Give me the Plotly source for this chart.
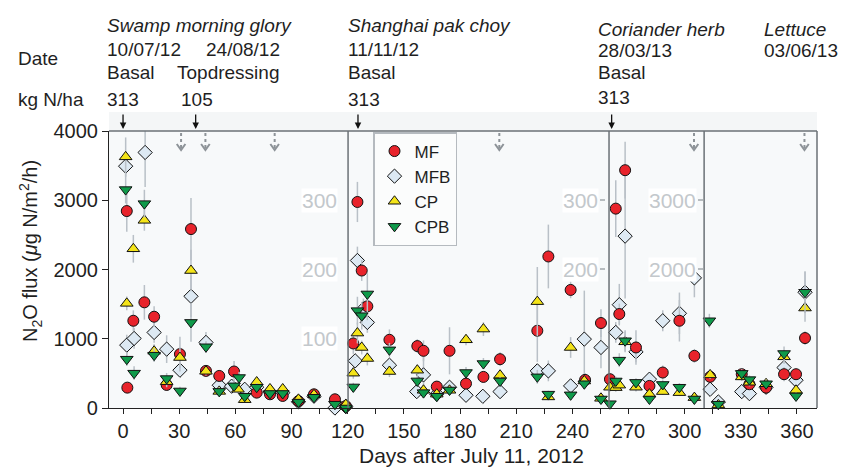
import plotly.graph_objects as go

# ---------------- data ----------------
mf_days = [2.0, 2.3, 5.5, 11.4, 16.6, 23.3, 30.4, 36.3, 44.3, 51.4, 59.3, 71.4, 78.5, 85.3, 93.7, 102, 113.2, 119,
           123, 125.2, 127.5, 130.5, 142.3, 157.2, 160.5, 167.6, 174.4, 183.2, 192.5, 201.4, 221.3, 227.2, 239.1, 246.8, 255.3, 260.1,
           263.2, 265.1, 268.2, 274, 281.2, 288.3, 297.2, 305.2,
           313.6, 330.5, 334.6, 343.5, 353.1, 359.5, 364.3]
mf_vals = [2844, 294, 1260, 1526, 1318, 333, 778, 2584, 536, 463, 527, 222, 198, 174, 100, 198, 126, 29,
           932, 2975, 1985, 1468, 985, 894, 826, 309, 826, 352, 449, 705, 1116, 2188, 1705, 406, 1227, 416,
           2879, 1357, 3434, 874, 319, 512, 1260, 753,
           450, 488, 343, 294, 488, 488, 1010]
mf_err = [300, 60, 150, 250, 150, 80, 250, 450, 60, 80, 150, 60, 50, 50, 40, 60, 40, 20,
          150, 290, 150, 200, 150, 100, 150, 60, 340, 80, 80, 100, 450, 460, 120, 100, 200, 80,
          410, 150, 410, 250, 80, 100, 300, 100,
          60, 80, 60, 50, 100, 80, 100]

mfb_days = [1.4, 2.0, 5.9, 11.8, 16.6, 23.3, 30.4, 36.3, 44.3, 51.4, 58, 65, 71.4, 78.5, 85.3, 93.7, 102, 113.2, 119,
            124, 125.2, 128.4, 130.5, 142.3, 156.9, 160.5, 167.6, 174.4, 183.2, 192.2, 201.4, 221.3, 227.2, 239.1, 246.4, 255.3,
            263.2, 265.1, 268.2, 274, 281.2, 288.3, 297.2, 305.2,
            313.6, 318, 330.5, 334.6, 343.5, 353.1, 359.5, 364.3]
mfb_vals = [3492, 908, 1004, 3690, 1091, 850, 546, 1613, 947, 329, 315, 270, 300, 230, 220, 90, 170, 0, 20,
            681, 2130, 1430, 1236, 618, 237, 478, 200, 300, 184, 169, 237, 536, 536, 319, 995, 874,
            1091, 1492, 2482, 811, 416, 1260, 1367, 1879,
            270, 87, 237, 208, 300, 584, 401, 1671]
mfb_err = [150, 150, 150, 500, 150, 200, 100, 300, 150, 80, 80, 60, 60, 50, 50, 30, 50, 20, 20,
           100, 200, 150, 150, 100, 60, 300, 40, 60, 40, 40, 50, 100, 150, 60, 700, 300,
           150, 300, 900, 150, 80, 150, 300, 280,
           40, 30, 50, 50, 50, 100, 60, 300]

cp_days = [1.4, 2.0, 5.5, 11.4, 16.6, 23.3, 30.4, 36.3, 44.3, 51.4, 61.4, 65, 71.4, 78.5, 85.3, 93.7, 102, 119,
           123, 125.2, 127.5, 130.5, 142.3, 157.2, 160.5, 167.6, 174.4, 183.2, 192.5, 201.4, 221.3, 227.2, 239.1, 246.4, 255.3,
           260.1, 263.2, 265.1, 268.2, 274, 281.2, 288.3, 297.2, 305.2,
           313.6, 318, 330.5, 334.6, 343.5, 353.1, 359.5, 364.3]
cp_vals = [3627, 1511, 2299, 2710, 820, 380, 729, 1985, 530, 240, 270, 120, 375, 275, 275, 125, 190, 50,
           503, 1082, 874, 715, 527, 546, 256, 200, 256, 985, 1140, 473, 1536, 160, 874, 390, 140,
           300, 294, 330, 956, 300, 200, 237, 222, 150,
           478, 45, 449, 372, 350, 739, 256, 1444]
cp_err = [280, 100, 200, 150, 100, 80, 150, 300, 60, 60, 60, 40, 60, 50, 50, 40, 50, 20,
          80, 150, 100, 100, 80, 80, 50, 40, 50, 80, 100, 80, 500, 50, 150, 60, 40,
          60, 60, 60, 150, 60, 50, 50, 50, 40,
          60, 20, 60, 60, 60, 100, 50, 200]

cpb_days = [1.4, 2.0, 5.9, 11.4, 16.6, 23.3, 30.4, 36.3, 44.3, 51.4, 59.3, 62, 65, 71.4, 78.5, 85.3, 93.7, 102, 113.2, 119,
            123, 125.2, 127.5, 130.5, 142.3, 157.2, 160.5, 167.6, 174.4, 183.2, 192.5, 201.4, 221.3, 227.2, 239.1, 246.4, 255.3, 260.1,
            263.2, 265.1, 268.2, 274, 281.2, 288.3, 297.2, 305.2,
            313.2, 318, 330.5, 334.6, 343.5, 353.1, 359.5, 364.3]
cpb_vals = [3154, 705, 503, 2951, 763, 425, 246, 1236, 884, 240, 320, 440, 170, 300, 210, 210, 85, 155, 55, 0,
            304, 1406, 1333, 1647, 840, 391, 222, 170, 260, 512, 642, 390, 450, 200, 190, 350, 130, 62,
            390, 691, 971, 370, 130, 340, 300, 130,
            1260, 55, 500, 410, 350, 787, 174, 1671]
cpb_err = [200, 100, 100, 200, 100, 80, 60, 280, 80, 60, 60, 80, 50, 60, 50, 50, 30, 40, 20, 20,
           60, 200, 200, 300, 100, 80, 50, 40, 50, 80, 80, 60, 100, 50, 50, 60, 40, 20,
           60, 100, 150, 60, 40, 60, 60, 40,
           100, 20, 60, 60, 60, 100, 50, 300]

x_ticks = list(range(0, 361, 15))
y_ticks = [0, 1000, 2000, 3000, 4000]
divider_days = [120.2, 259.6, 310.4]
fert_days = [0, 38.8, 125.5, 261]
gray_arrow_days = [31, 44, 81, 201, 305, 364]

# ---------------- geometry helpers ----------------
W, H = 848, 473
L, R, T, B = 109, 31, 131, 65
PW, PH = W - L - R, H - T - B
def px(x):
    return (x - L) / PW
def py(y):
    return (H - B - y) / PH

FONT = "Liberation Sans, Arial, sans-serif"
TXT = "#1f1f1f"

fig = go.Figure()

ebar = dict(type="data", visible=True, color="#b9c0c7", thickness=1.5, width=0)

series = [
    ("MFB", mfb_days, mfb_vals, mfb_err, "diamond", "#dde9f3", 11, 2),
    ("MF", mf_days, mf_vals, mf_err, "circle", "#e8232b", 11, 1),
    ("CP", cp_days, cp_vals, cp_err, "triangle-up", "#f4e419", 11, 3),
    ("CPB", cpb_days, cpb_vals, cpb_err, "triangle-down", "#0f9a4a", 11, 4),
]
for name, xs, ys, es, sym, col, sz, rank in series:
    fig.add_trace(go.Scatter(
        x=xs, y=ys, mode="markers", name=name, legendrank=rank,
        error_y=dict(array=es, **ebar),
        marker=dict(symbol=sym, color=col, size=sz, line=dict(color="#111", width=1)),
        cliponaxis=False,
    ))

shapes = []
# light band above plot
shapes.append(dict(type="rect", xref="paper", yref="paper", x0=0, x1=1, y0=1, y1=py(112),
                   fillcolor="#f4f6f7", line=dict(width=0), layer="below"))
# dividers
for d in divider_days:
    shapes.append(dict(type="line", xref="x", yref="paper", x0=d, x1=d, y0=0, y1=1,
                       line=dict(color="#6b7176", width=1.5)))
# top & right border
shapes.append(dict(type="line", xref="paper", yref="paper", x0=0, x1=1, y0=1, y1=1,
                   line=dict(color="#6b7176", width=1.5)))
shapes.append(dict(type="line", xref="paper", yref="paper", x0=1, x1=1, y0=0, y1=1,
                   line=dict(color="#6b7176", width=1.5)))
# gray dotted arrows
for d in gray_arrow_days:
    shapes.append(dict(type="line", xref="x", yref="paper", x0=d, x1=d, y0=py(133), y1=py(148),
                       line=dict(color="#8d9398", width=2, dash="dot")))
    dx = 2.3
    shapes.append(dict(type="path", xref="x", yref="paper",
                       path=f"M {d-dx},{py(144)} L {d},{py(150)} L {d+dx},{py(144)}",
                       line=dict(color="#8d9398", width=2)))

annotations = []
# black fertiliser arrows
for d in fert_days:
    annotations.append(dict(x=d, y=py(129), xref="x", yref="paper", text="", showarrow=True,
                            ax=0, ay=-16, arrowhead=2, arrowsize=1, arrowwidth=1.3, arrowcolor="#111"))

def txt(s, x, y, italic=False, size=19, color=TXT, xanchor="left", angle=0):
    if italic:
        s = "<i>" + s + "</i>"
    annotations.append(dict(text=s, x=px(x), y=py(y), xref="paper", yref="paper",
                            xanchor=xanchor, yanchor="middle", showarrow=False, borderpad=0,
                            textangle=angle,
                            font=dict(family=FONT, size=size, color=color)))

txt("Swamp morning glory", 106, 26, True)
txt("10/07/12", 106, 49)
txt("24/08/12", 205, 49)
txt("Date", 17, 58)
txt("Basal", 106, 73)
txt("Topdressing", 176, 73)
txt("kg N/ha", 17, 100)
txt("313", 106, 100)
txt("105", 180, 100)
txt("Shanghai pak choy", 347, 26, True)
txt("11/11/12", 347, 49)
txt("Basal", 347, 73)
txt("313", 347, 100)
txt("Coriander herb", 597, 30, True)
txt("28/03/13", 597, 51)
txt("Basal", 597, 72)
txt("313", 597, 97)
txt("Lettuce", 763, 30, True)
txt("03/06/13", 763, 51)

# axis titles
txt("Days after July 11, 2012", 471, 455, size=21, xanchor="center")
txt("N<sub>2</sub>O flux (<i>μ</i>g N/m<sup>2</sup>/h)", 30, 251, size=20, xanchor="center", angle=-90)

# gray secondary-scale labels
GRAY = "#c3c8cc"
def glabel(s, xr, y, tick=False):
    annotations.append(dict(text=s, x=px(xr), y=py(y), xref="paper", yref="paper",
                            xanchor="right", yanchor="middle", showarrow=False,
                            bgcolor="white", borderpad=0,
                            font=dict(family=FONT, size=21, color=GRAY)))
    if tick:
        shapes.append(dict(type="line", xref="paper", yref="paper", x0=px(xr + 1), x1=px(xr + 6),
                           y0=py(y), y1=py(y), line=dict(color="#8d9398", width=1.2)))

glabel("300", 338, 200)
glabel("200", 338, 269)
glabel("100", 338, 338)
glabel("300", 599, 200, True)
glabel("200", 599, 269, True)
glabel("3000", 697, 200, True)
glabel("2000", 697, 269, True)

fig.update_layout(
    width=W, height=H,
    margin=dict(l=L, r=R, t=T, b=B, autoexpand=False),
    paper_bgcolor="white",
    plot_bgcolor="#f7f9fa",
    font=dict(family=FONT, size=20, color=TXT),
    showlegend=True,
    legend=dict(x=px(373), y=py(132), xanchor="left", yanchor="top",
                bgcolor="#fbfcfc", bordercolor="#b5babf", borderwidth=1.5,
                font=dict(family=FONT, size=17, color=TXT),
                itemwidth=30, tracegroupgap=0),
    shapes=shapes,
    annotations=annotations,
)
fig.update_xaxes(
    range=[-7.5, 370.7], tickmode="array", tickvals=x_ticks,
    ticktext=[str(v) if v % 30 == 0 else "" for v in x_ticks],
    ticks="outside", ticklen=5, tickwidth=1, tickcolor="#222",
    showline=True, linecolor="#222", linewidth=1.2, showgrid=False, zeroline=False,
    automargin=False,
    tickfont=dict(family=FONT, size=20, color=TXT),
)
fig.update_yaxes(
    range=[0, 4000], tickmode="array", tickvals=y_ticks,
    ticks="outside", ticklen=6, tickwidth=1, tickcolor="#222",
    showline=True, linecolor="#222", linewidth=1.2, showgrid=False, zeroline=False,
    automargin=False,
    tickfont=dict(family=FONT, size=20, color=TXT),
)

fig.write_html("out.html")
